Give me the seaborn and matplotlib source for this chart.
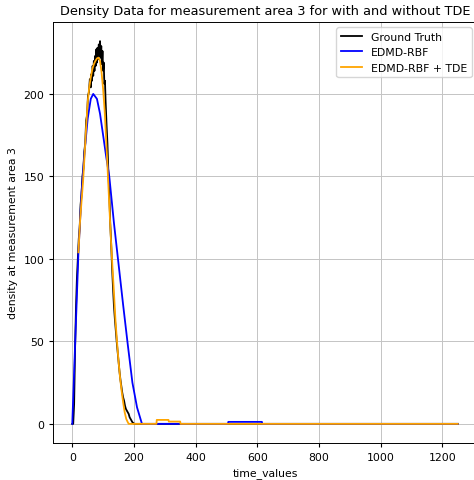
import matplotlib
matplotlib.use("Agg")
import matplotlib.pyplot as plt
import seaborn as sns

# Ground truth density (measurement area 3)
gt_time = [0, 3, 6, 9, 12, 15, 18, 21, 24, 27, 30, 33, 36, 39, 42, 45, 48, 51, 54, 57,
           60, 62, 64, 66, 68, 70, 72, 74, 76, 78, 80, 82, 84, 86, 88, 90, 92, 94, 96,
           98, 100, 102, 104, 106, 108, 111, 114, 117, 120, 123, 126, 129, 132, 135,
           138, 141, 144, 147, 150, 153, 156, 159, 162, 165, 168, 171, 174, 177, 180,
           183, 186, 189, 192, 195, 198, 201, 204, 1250]
gt_density = [0, 0, 12, 45, 70, 88, 100, 112, 119, 133, 139, 150, 155, 165, 170, 184,
              187, 199, 201, 209, 204, 212, 208, 217, 211, 220, 214, 223, 217, 227, 219,
              228, 221, 230, 223, 232, 222, 229, 218, 226, 214, 219, 206, 208, 196, 182,
              170, 153, 140, 122, 110, 95, 83, 72, 64, 57, 50, 44, 38, 32, 27, 23, 19, 16,
              14, 11, 9, 8, 7, 6, 4, 3, 2, 1, 0.5, 0, 0, 0]

# EDMD-RBF prediction
rbf_time = [0, 20, 30, 40, 50, 60, 68, 80, 90, 100, 110, 120, 135, 150, 165, 180, 195,
            210, 226, 505, 506, 615, 616, 1250]
rbf_density = [0, 104, 140, 165, 185, 197, 200, 197, 188, 175, 162, 150, 122, 97, 72,
               48, 25, 10, 0, 0, 1.2, 1.2, 0, 0]

# EDMD-RBF + TDE prediction
tde_time = [20, 25, 30, 35, 40, 45, 50, 55, 60, 65, 70, 75, 80, 85, 90, 95, 100, 105,
            110, 115, 120, 125, 130, 135, 140, 145, 150, 155, 160, 165, 170, 175, 180,
            183, 273, 274, 312, 313, 350, 351, 1250]
tde_density = [104, 122, 135, 147, 163, 180, 195, 204, 210, 215, 218, 220, 221.5, 222,
               220, 213, 203, 190, 172, 153, 133, 113, 96, 80, 63, 50, 38, 28, 20, 13, 7,
               3, 1, 0, 0, 2.4, 2.4, 1.4, 1.4, 0, 0]

plt.rcParams['font.size'] = 7.8
plt.rcParams['xtick.major.size'] = 2.8
plt.rcParams['ytick.major.size'] = 2.8
plt.rcParams['axes.linewidth'] = 0.7
plt.rcParams['grid.linewidth'] = 0.7
plt.rcParams['grid.color'] = '#c4c4c4'

fig = plt.figure(figsize=(4.74, 4.81), dpi=100)
ax = fig.add_axes([53 / 474, 37 / 481, 424 / 474, 421 / 481])

sns.lineplot(x=gt_time, y=gt_density, ax=ax, color="black", linewidth=1.3,
             sort=False, estimator=None, label="Ground Truth")
sns.lineplot(x=rbf_time, y=rbf_density, ax=ax, color="blue", linewidth=1.3,
             sort=False, estimator=None, label="EDMD-RBF")
sns.lineplot(x=tde_time, y=tde_density, ax=ax, color="orange", linewidth=1.3,
             sort=False, estimator=None, label="EDMD-RBF + TDE")

ax.set_xticks([0, 200, 400, 600, 800, 1000, 1200])
ax.set_yticks([0, 50, 100, 150, 200])
ax.grid(True)
ax.set_title("Density Data for measurement area 3 for with and without TDE", fontsize=9.3)
ax.set_xlabel("time_values")
ax.set_ylabel("density at measurement area 3")
ax.legend(loc="upper right")

fig.savefig("out.png", dpi=100)
